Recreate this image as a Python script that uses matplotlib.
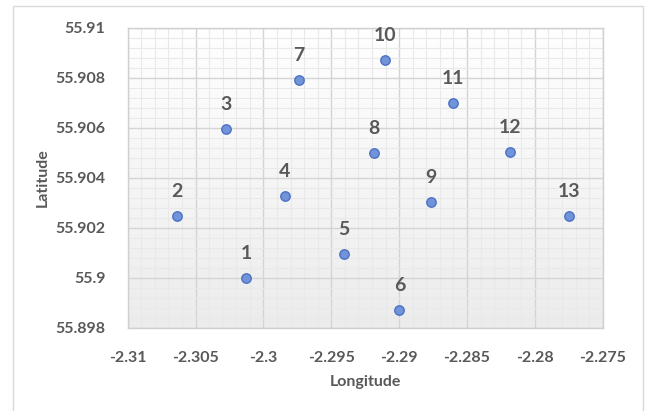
import matplotlib
matplotlib.use("Agg")
import matplotlib.pyplot as plt
from matplotlib.ticker import MultipleLocator, FuncFormatter
import numpy as np

# site positions
site_ids = ["1", "2", "3", "4", "5", "6", "7", "8", "9", "10", "11", "12", "13"]
longitude = [-2.30127, -2.30640, -2.30275, -2.29843, -2.29404, -2.28998, -2.29738,
             -2.29187, -2.28765, -2.29106, -2.28601, -2.28182, -2.27748]
latitude = [55.90000, 55.90249, 55.90596, 55.90329, 55.90095, 55.89871, 55.90792,
            55.90501, 55.90305, 55.90871, 55.90701, 55.90503, 55.90247]

text_col = "#595959"
plt.rcParams['font.family'] = ['Lato', 'DejaVu Sans']

fig = plt.figure(figsize=(6.47, 4.11), dpi=100)
ax = fig.add_axes([0.1974, 0.2027, 0.7342, 0.7292])

# outer chart frame (runs off the bottom of the picture)
frame = plt.Rectangle((0.0201, -0.2), 0.9737, 1.1854, transform=fig.transFigure,
                      fill=False, ec="#d9d9d9", lw=1.0)
fig.add_artist(frame)

# plot area gradient: white at top, light grey at bottom
grad = np.linspace(1.0, 0.0, 256).reshape(-1, 1)
ax.imshow(grad, extent=[0, 1, 0, 1], transform=ax.transAxes, aspect="auto",
          cmap=matplotlib.colors.LinearSegmentedColormap.from_list("g", ["#ececec", "#ffffff"]),
          zorder=0)

ax.set_xlim(-2.31, -2.275)
ax.set_ylim(55.898, 55.91)

ax.xaxis.set_major_locator(MultipleLocator(0.005))
ax.xaxis.set_minor_locator(MultipleLocator(0.001))
ax.yaxis.set_major_locator(MultipleLocator(0.002))
ax.yaxis.set_minor_locator(MultipleLocator(0.0004))

def general(v, pos):
    return f"{v:.4f}".rstrip("0").rstrip(".")

ax.xaxis.set_major_formatter(FuncFormatter(general))
ax.yaxis.set_major_formatter(FuncFormatter(general))

ax.grid(which="major", color="#d4d4d4", lw=1.0, zorder=1)
ax.grid(which="minor", color="#e9e9e9", lw=0.8, zorder=1)
ax.set_axisbelow(True)

ax.tick_params(which="both", length=0)
ax.tick_params(axis="x", pad=17, labelsize=11.5, labelcolor=text_col)
ax.tick_params(axis="y", pad=16, labelsize=11.5, labelcolor=text_col)
for lab in ax.get_xticklabels() + ax.get_yticklabels():
    lab.set_fontweight("bold")

for s in ax.spines.values():
    s.set_color("#d0d0d0")
    s.set_linewidth(1.0)

ax.scatter(longitude, latitude, s=46, facecolor="#7193da", edgecolor="#4a72c4",
           linewidth=1.0, zorder=3)

for name, x, y in zip(site_ids, longitude, latitude):
    ax.annotate(name, (x, y), xytext=(0, 17.5), textcoords="offset points",
                ha="center", va="center", fontsize=14, color=text_col,
                fontweight="bold", zorder=4)

ax.set_xlabel("Longitude", fontsize=11.5, color=text_col, fontweight="bold", labelpad=7)
ax.set_ylabel("Latitude", fontsize=11.5, color=text_col, fontweight="bold", labelpad=4)

fig.savefig("out.png", dpi=100)
